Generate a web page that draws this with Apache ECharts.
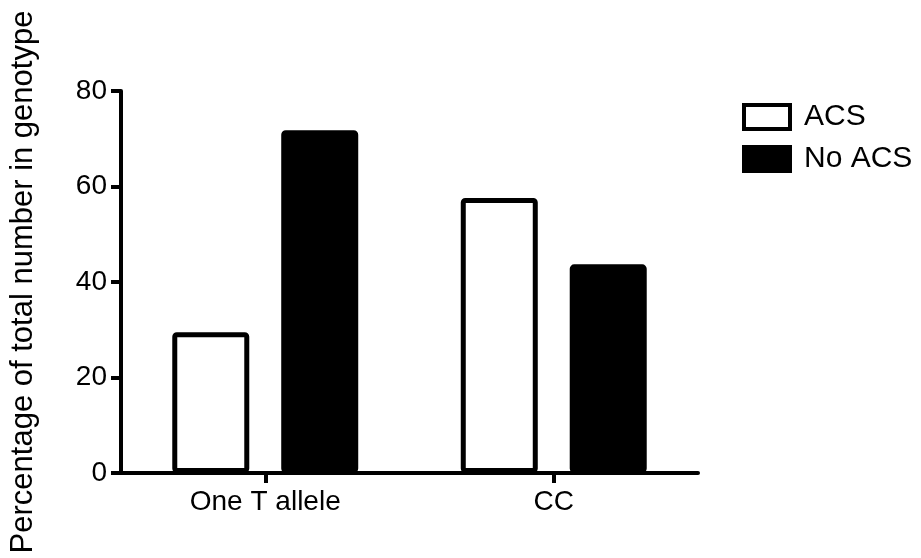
<!DOCTYPE html>
<html>
<head>
<meta charset="utf-8">
<script src="https://cdn.jsdelivr.net/npm/echarts@6/dist/echarts.min.js"></script>
<style>html,body{margin:0;padding:0;background:#fff;}#c{width:921px;height:558px;}</style>
</head>
<body>
<div id="c"></div>
<script>
var categories = ['One T allele', 'CC'];
var acsValues = [29.5, 57.6];
var noAcsValues = [71.8, 43.7];
var yTicks = [0, 20, 40, 60, 80];
var seriesNames = ['ACS', 'No ACS'];

var FONT = 'Liberation Sans, Arial, Helvetica, sans-serif';
var chart = echarts.init(document.getElementById('c'), null, {renderer: 'canvas'});
chart.setOption({
  animation: false,
  backgroundColor: '#ffffff',
  grid: {left: 121, right: 223, top: 91, bottom: 85, containLabel: false},
  legend: {
    orient: 'vertical',
    left: 737,
    top: 97,
    icon: 'rect',
    itemWidth: 46,
    itemHeight: 24,
    itemGap: 12,
    itemStyle: {borderColor: '#000', borderWidth: 4},
    textStyle: {fontFamily: FONT, fontSize: 30, color: '#000', padding: [0, 0, 0, 9]},
    data: seriesNames
  },
  xAxis: {
    type: 'category',
    data: categories,
    axisLine: {lineStyle: {color: '#000', width: 4}},
    axisTick: {show: true, alignWithLabel: true, length: 10, lineStyle: {color: '#000', width: 4}},
    axisLabel: {fontFamily: FONT, fontSize: 28, color: '#000', margin: 15}
  },
  yAxis: {
    type: 'value',
    min: yTicks[0],
    max: yTicks[yTicks.length - 1],
    interval: yTicks[1] - yTicks[0],
    name: 'Percentage of total number in genotype',
    nameLocation: 'middle',
    nameRotate: 90,
    nameGap: 82,
    nameTextStyle: {fontFamily: FONT, fontSize: 31, color: '#000'},
    splitLine: {show: false},
    axisLine: {show: true, lineStyle: {color: '#000', width: 4}},
    axisTick: {show: true, length: 10, lineStyle: {color: '#000', width: 4}},
    axisLabel: {fontFamily: FONT, fontSize: 28, color: '#000', margin: 14}
  },
  series: [
    {
      name: seriesNames[0],
      type: 'bar',
      data: acsValues,
      barWidth: 77,
      barGap: '41.5%',
      itemStyle: {color: '#ffffff', borderColor: '#000', borderWidth: 5, borderRadius: 2}
    },
    {
      name: seriesNames[1],
      type: 'bar',
      data: noAcsValues,
      barWidth: 77,
      barGap: '41.5%',
      itemStyle: {color: '#000000', borderColor: '#000', borderWidth: 5, borderRadius: 2}
    }
  ]
});
</script>
</body>
</html>
